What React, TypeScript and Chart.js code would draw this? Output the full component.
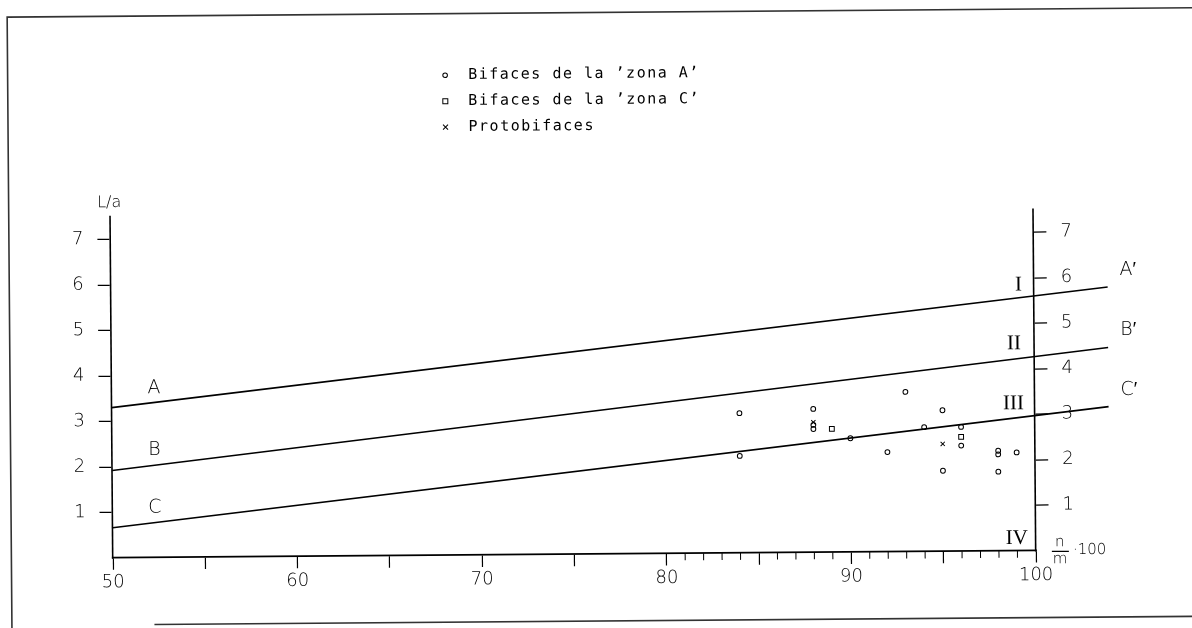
import React, { useEffect, useRef } from 'react';
import { Chart, registerables } from 'chart.js';

Chart.register(...registerables);

// ---- data ----
const xTicks = [50, 55, 60, 65, 70, 75, 80, 85, 90, 95, 100];
const xMinorTicks = [81, 82, 83, 84, 86, 87, 88, 89, 91, 92, 93, 94, 96, 97, 98, 99];
const yTicks = [1, 2, 3, 4, 5, 6, 7];

const lineX = [50, 104];
const lineA = [3.3, 5.78];
const lineB = [1.92, 4.45];
const lineC = [0.66, 3.15];

const zoneAX = [84, 84, 88, 88, 88, 90, 92, 93, 94, 95, 95, 96, 96, 98, 98, 99, 98];
const zoneAY = [3.07, 2.13, 3.15, 2.8, 2.71, 2.5, 2.19, 3.51, 2.73, 3.1, 1.77, 2.73, 2.32, 2.2, 2.12, 2.16, 1.74];
const zoneCX = [89, 96];
const zoneCY = [2.71, 2.51];
const protoX = [88, 95];
const protoY = [2.86, 2.36];

const legendLabels = ['Bifaces de la \u2019zona A\u2019', 'Bifaces de la \u2019zona C\u2019', 'Protobifaces'];
const lineLabels = ['A', 'B', 'C'];
const lineEndLabels = ['A\u2032', 'B\u2032', 'C\u2032'];
const regionLabels = ['I', 'II', 'III', 'IV'];
const yTitle = 'L/a';

const INK = '#000';
const SANS = '"DejaVu Sans", sans-serif';
const SKEW = (-0.45 * Math.PI) / 180;

const pts = (xs: number[], ys: number[]) => xs.map((x, i) => ({ x, y: ys[i] }));

// The scanned page is slightly tilted: the whole drawing is rotated inside the canvas.
const pagePlugin = {
  id: 'page',
  beforeDraw(chart: any) {
    const ctx = chart.ctx;
    ctx.save();
    ctx.translate(596, 314);
    ctx.rotate(SKEW);
    ctx.translate(-596, -314);
  },
  afterDraw(chart: any) {
    const { ctx, scales } = chart;
    const x = scales.x;
    const y = scales.y;
    const px = (v: number) => x.getPixelForValue(v);
    const py = (v: number) => y.getPixelForValue(v);
    ctx.save();
    ctx.strokeStyle = INK;
    ctx.fillStyle = INK;

    // minor ticks on x axis
    ctx.lineWidth = 1;
    const y0 = py(0);
    xMinorTicks.forEach((v) => {
      const p = px(v);
      ctx.beginPath();
      ctx.moveTo(p, y0);
      ctx.lineTo(p, y0 + 7);
      ctx.stroke();
    });

    // frame of the page
    ctx.strokeStyle = '#333';
    ctx.lineWidth = 1.6;
    ctx.beginPath();
    ctx.moveTo(9.5, 640);
    ctx.lineTo(9.5, 12.5);
    ctx.lineTo(1200, 12.5);
    ctx.stroke();
    ctx.beginPath();
    ctx.moveTo(152, 621);
    ctx.lineTo(1200, 621);
    ctx.stroke();
    ctx.strokeStyle = INK;

    // legend
    const lx = 447;
    const ly = [74, 100, 126];
    ctx.lineWidth = 1;
    ctx.beginPath();
    ctx.arc(lx, ly[0], 2.3, 0, Math.PI * 2);
    ctx.stroke();
    ctx.strokeRect(lx - 2.5, ly[1] - 2.5, 5, 5);
    ctx.beginPath();
    ctx.moveTo(lx - 2.5, ly[2] - 2.5);
    ctx.lineTo(lx + 2.5, ly[2] + 2.5);
    ctx.moveTo(lx + 2.5, ly[2] - 2.5);
    ctx.lineTo(lx - 2.5, ly[2] + 2.5);
    ctx.stroke();
    ctx.font = '15px "DejaVu Sans Mono", monospace';
    (ctx as any).letterSpacing = '1.5px';
    ctx.textAlign = 'left';
    ctx.textBaseline = 'middle';
    legendLabels.forEach((t, i) => ctx.fillText(t, 470, ly[i]));
    (ctx as any).letterSpacing = '0px';

    // axis title
    ctx.font = `200 16px ${SANS}`;
    ctx.textAlign = 'center';
    ctx.fillText(yTitle, px(49.95), py(7.8));

    // line labels
    ctx.font = `200 19px ${SANS}`;
    const startLab = [3.72, 2.36, 1.09];
    lineLabels.forEach((t, i) => ctx.fillText(t, px(52.3), py(startLab[i])));
    const endLab = [6.15, 4.83, 3.51];
    lineEndLabels.forEach((t, i) => ctx.fillText(t, px(105.1), py(endLab[i])));

    // region numerals
    ctx.font = '21px "Liberation Serif", serif';
    const regX = [99.17, 98.9, 98.85, 98.97];
    const regY = [5.84, 4.55, 3.23, 0.27];
    regionLabels.forEach((t, i) => ctx.fillText(t, px(regX[i]), py(regY[i])));

    // n/m · 100
    const r = x.right;
    ctx.font = `200 15px ${SANS}`;
    ctx.fillText('n', r + 24, y0 - 8);
    ctx.fillText('m', r + 24, y0 + 9);
    ctx.lineWidth = 1.2;
    ctx.beginPath();
    ctx.moveTo(r + 16, y0 + 1);
    ctx.lineTo(r + 33, y0 + 1);
    ctx.stroke();
    ctx.textAlign = 'left';
    ctx.fillText('\u00b7100', r + 37, y0);

    ctx.restore();
    ctx.restore();
  },
};

const tickFont = { family: SANS, size: 18, weight: '200' as any };

export default function App() {
  const ref = useRef<HTMLCanvasElement>(null);
  useEffect(() => {
    const lineDs = (vals: number[]) => ({
      data: pts(lineX, vals),
      showLine: true,
      borderColor: INK,
      borderWidth: 1.6,
      pointRadius: 0,
      clip: false as any,
      order: 2,
    });
    const chart = new Chart(ref.current as HTMLCanvasElement, {
      type: 'scatter',
      data: {
        datasets: [
          lineDs(lineA),
          lineDs(lineB),
          lineDs(lineC),
          {
            data: pts(zoneAX, zoneAY),
            pointStyle: 'circle',
            pointRadius: 2.4,
            borderWidth: 1,
            borderColor: INK,
            backgroundColor: 'transparent',
            order: 1,
          },
          {
            data: pts(zoneCX, zoneCY),
            pointStyle: 'rect',
            pointRadius: 3.4,
            borderWidth: 1,
            borderColor: INK,
            backgroundColor: 'transparent',
            order: 1,
          },
          {
            data: pts(protoX, protoY),
            pointStyle: 'crossRot',
            pointRadius: 3,
            borderWidth: 1,
            borderColor: INK,
            order: 1,
          },
        ],
      },
      options: {
        responsive: false,
        animation: false,
        devicePixelRatio: 1,
        events: [],
        layout: { padding: { top: 212.75, left: 0, right: 0, bottom: 0 } },
        plugins: { legend: { display: false }, tooltip: { enabled: false } },
        scales: {
          x: {
            type: 'linear',
            min: 50,
            max: 100,
            afterBuildTicks: (s: any) => {
              s.ticks = xTicks.map((v) => ({ value: v }));
            },
            afterFit: (s: any) => {
              s.height = 74;
            },
            ticks: {
              autoSkip: false,
              maxRotation: 0,
              padding: 2,
              color: INK,
              font: tickFont,
              callback: (v: any) => (Number(v) % 10 === 0 ? String(v) : ''),
            },
            grid: { drawOnChartArea: false, tickLength: 12, tickColor: INK, tickWidth: 1.2 },
            border: { color: INK, width: 1.6 },
          },
          y: {
            type: 'linear',
            position: 'left',
            min: 0,
            max: 7.5,
            afterBuildTicks: (s: any) => {
              s.ticks = yTicks.map((v) => ({ value: v }));
            },
            afterFit: (s: any) => {
              s.width = 111;
            },
            ticks: { padding: 14, color: INK, font: tickFont },
            grid: { drawOnChartArea: false, tickLength: 13, tickColor: INK, tickWidth: 1.2 },
            border: { color: INK, width: 1.6 },
          },
          y2: {
            type: 'linear',
            position: 'right',
            min: 0,
            max: 7.5,
            afterBuildTicks: (s: any) => {
              s.ticks = yTicks.map((v) => ({ value: v }));
            },
            afterFit: (s: any) => {
              s.width = 158;
            },
            ticks: { padding: 14, color: INK, font: tickFont },
            grid: { drawOnChartArea: false, tickLength: 13, tickColor: INK, tickWidth: 1.2 },
            border: { color: INK, width: 1.6 },
          },
        },
      },
      plugins: [pagePlugin],
    } as any);
    return () => chart.destroy();
  }, []);

  return (
    <div
      style={{
        position: 'fixed',
        left: 0,
        top: 0,
        width: 1192,
        height: 628,
        overflow: 'hidden',
        background: '#fff',
      }}
    >
      <canvas ref={ref} width={1192} height={628} style={{ display: 'block', width: 1192, height: 628 }} />
    </div>
  );
}
